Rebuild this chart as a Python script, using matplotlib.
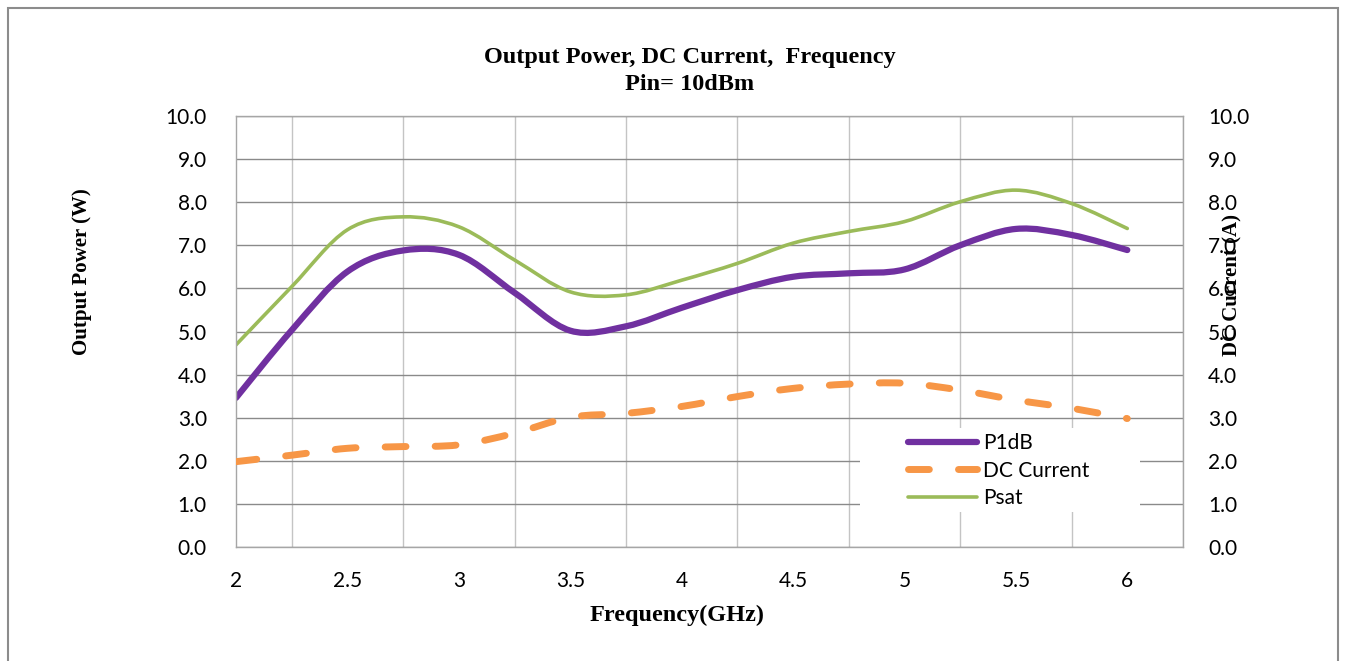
import numpy as np
import matplotlib
matplotlib.use('Agg')
import matplotlib.pyplot as plt
from matplotlib.path import Path
from matplotlib.patches import PathPatch, Rectangle
from matplotlib.lines import Line2D

# valeurs
freq = [2.0, 2.25, 2.5, 2.75, 3.0, 3.25, 3.5, 3.75, 4.0,
        4.25, 4.5, 4.75, 5.0, 5.25, 5.5, 5.75, 6.0]
p1db = [3.46, 5.03, 6.39, 6.88, 6.78, 5.90, 5.02, 5.12, 5.55,
        5.96, 6.27, 6.35, 6.44, 7.00, 7.38, 7.24, 6.89]
dc_current = [1.98, 2.13, 2.29, 2.33, 2.37, 2.64, 3.01, 3.10, 3.26,
              3.49, 3.68, 3.78, 3.80, 3.64, 3.41, 3.22, 2.98]
psat = [4.69, 6.04, 7.36, 7.66, 7.43, 6.66, 5.92, 5.85, 6.19,
        6.58, 7.05, 7.32, 7.55, 8.01, 8.28, 7.97, 7.39]

x_ticks = [2, 2.5, 3, 3.5, 4, 4.5, 5, 5.5, 6]
x_tick_labels = ['2', '2.5', '3', '3.5', '4', '4.5', '5', '5.5', '6']
y_ticks = np.arange(0, 11, 1)

PURPLE = '#7030A0'
ORANGE = '#F79646'
GREEN = '#9BBB59'
SANS = ['Lato', 'DejaVu Sans']
SERIF = 'Liberation Serif'


def smooth_path(x, y):
    """courbe lissée type Excel (Catmull-Rom en Bézier)"""
    pts = np.column_stack([x, y])
    n = len(pts)
    verts = [pts[0]]
    codes = [Path.MOVETO]
    for i in range(n - 1):
        p0 = pts[max(i - 1, 0)]
        p1 = pts[i]
        p2 = pts[i + 1]
        p3 = pts[min(i + 2, n - 1)]
        verts += [p1 + (p2 - p0) / 6, p2 - (p3 - p1) / 6, p2]
        codes += [Path.CURVE4] * 3
    return Path(verts, codes)


W, H = 1345, 661
fig = plt.figure(figsize=(W / 100, H / 100), dpi=100)
fig.patch.set_facecolor('white')

# cadre extérieur
fig.patches.append(Rectangle((8 / W, -0.05), 1330 / W, 1.05 - 8 / H,
                             transform=fig.transFigure, fill=False,
                             edgecolor='#8c8c8c', lw=1.5))

ax = fig.add_axes([236 / W, 114 / H, 947 / W, 431 / H])
ax.set_xlim(2, 6.25)
ax.set_ylim(0, 10)
ax.set_xticks(np.arange(2, 6.26, 0.25), minor=True)
ax.set_xticks(x_ticks)
ax.set_xticklabels(x_tick_labels, fontsize=15, family=SANS)
ax.set_yticks(y_ticks)
ax.set_yticklabels([f'{v:.1f}' for v in y_ticks], fontsize=15, family=SANS)
ax.tick_params(which='both', length=0)
ax.tick_params(axis='y', pad=21)
ax.tick_params(axis='x', pad=17)
ax.grid(True, axis='y', color='#8a8a8a', lw=1)
ax.grid(True, axis='x', which='minor', color='#c4c4c4', lw=1)
ax.grid(False, axis='x', which='major')
ax.set_axisbelow(True)
for s in ax.spines.values():
    s.set_color('#a6a6a6')
    s.set_linewidth(1)

ax2 = ax.twinx()
ax2.set_ylim(0, 10)
ax2.set_yticks(y_ticks)
ax2.set_yticklabels([f'{v:.1f}' for v in y_ticks], fontsize=15, family=SANS)
ax2.tick_params(length=0, pad=18)
for s in ax2.spines.values():
    s.set_visible(False)

ax.add_patch(PathPatch(smooth_path(freq, p1db), fill=False,
                       edgecolor=PURPLE, lw=4.5, capstyle='round'))
ax.add_patch(PathPatch(smooth_path(freq, psat), fill=False,
                       edgecolor=GREEN, lw=2.6, capstyle='round'))
ax2.add_patch(PathPatch(smooth_path(freq, dc_current), fill=False,
                        edgecolor=ORANGE, lw=5, linestyle=(0, (3, 4.2)),
                        capstyle='round'))

# fond blanc de la légende (masque la grille)
ax2.add_patch(Rectangle((860 / W, 1 - 512 / H), 280 / W, 84 / H,
                        transform=fig.transFigure, facecolor='white',
                        edgecolor='none', zorder=1))

handles = [Line2D([], [], color=PURPLE, lw=4.5, solid_capstyle='round'),
           Line2D([], [], color=ORANGE, lw=5, linestyle=(0, (3, 4.2)),
                  dash_capstyle='round'),
           Line2D([], [], color=GREEN, lw=2.6, solid_capstyle='round')]
leg = ax2.legend(handles, ['P1dB', 'DC Current', 'Psat'],
                 loc='upper left', bbox_to_anchor=(908 / W, 1 - 433 / H),
                 bbox_transform=fig.transFigure, frameon=False,
                 prop={'family': SANS, 'size': 15}, handlelength=3.3,
                 handletextpad=0.3, labelspacing=0.37, borderpad=0,
                 borderaxespad=0)

fig.text(690 / W, 1 - 58 / H, 'Output Power, DC Current,  Frequency',
         ha='center', va='center', fontsize=17.5, fontweight='bold',
         family=SERIF)
fig.text(690 / W, 1 - 85 / H, 'Pin= 10dBm', ha='center', va='center',
         fontsize=17.5, fontweight='bold', family=SERIF)
fig.text(677 / W, 1 - 615 / H, 'Frequency(GHz)', ha='center', va='center',
         fontsize=17.5, fontweight='bold', family=SERIF)
fig.text(82 / W, 1 - 272 / H, 'Output Power (W)', ha='center', va='center',
         rotation=90, fontsize=15, fontweight='bold', family=SERIF)
fig.text(1232 / W, 1 - 285 / H, 'DC Current (A)', ha='center', va='center',
         rotation=90, fontsize=15, fontweight='bold', family=SERIF)

plt.savefig('out.png', dpi=100)
plt.close()
